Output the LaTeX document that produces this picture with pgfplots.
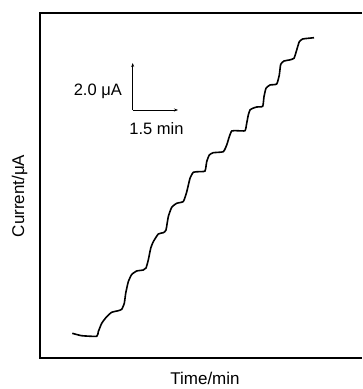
\documentclass[border=0pt]{standalone}
\usepackage{fontspec}
\setmainfont{Liberation Sans}
\usepackage{pgfplots}
\pgfplotsset{compat=1.18}
\usetikzlibrary{arrows.meta}
\begin{document}
\begin{tikzpicture}
\begin{axis}[
  scale only axis, width=322pt, height=345pt,
  xmin=40, xmax=362, ymin=31, ymax=376,
  hide axis, clip=false,
]
\path (axis cs:0,0) rectangle (axis cs:362,389);
\draw[line width=1.1pt] (axis cs:362,376) -- (axis cs:40,376) -- (axis cs:40,31) -- (axis cs:362,31);
\addplot[black, line width=1.6pt, smooth, tension=0.3] coordinates {
(72.3,55.7) (81.7,53.3) (96.7,52.7) (98.3,57.3) (101.7,65.7) (106.7,72.3) (111.7,76.7) (118.3,78.3) (121.7,79.7)
(124.3,85.7) (125.7,95.7) (128.3,107.3) (131.7,114.5) (136.7,118) (143.3,119) (146,121)
(148.3,129) (150.7,140.7) (153.3,147.3) (158.3,155) (163.3,156.3) (166,159)
(168.3,172.3) (171.7,181.7) (176.7,185.7) (183.3,187.5) (186.7,197)
(190,210.7) (193.3,216.7) (198.3,217.3) (205,218) (206.7,227.3)
(209.3,234) (213.3,236.3) (223.3,237.3) (226.7,244) (229.3,252.3) (231.7,258) (236.7,258.3) (245,258.3)
(246.7,265.7) (248.3,274) (250,279) (252.7,280.7) (256.7,282) (262.7,282.7)
(264,292.3) (266,300.7) (270,304) (276.7,305) (279.3,314) (280.7,324.7) (284,328) (289.3,329) (294,330.7)
(296.7,339) (299.3,347.3) (302.7,350) (308.3,350.7) (314,351.3)
};
\draw[line width=0.9pt, -{Stealth[length=4pt,width=3pt]}] (axis cs:132.7,279) -- (axis cs:132.7,326);
\draw[line width=0.9pt, -{Stealth[length=4pt,width=3pt]}] (axis cs:132.7,279) -- (axis cs:178,279);
\node[anchor=east, font=\fontsize{16.5}{19}\selectfont, inner sep=0pt] at (axis cs:122,298) {2.0 μA};
\node[font=\fontsize{16.5}{19}\selectfont, inner sep=0pt] at (axis cs:156.5,260) {1.5 min};
\node[rotate=90, font=\fontsize{17}{19}\selectfont, inner sep=0pt] at (axis cs:19.5,193) {Current/μA};
\node[font=\fontsize{17}{19}\selectfont, inner sep=0pt] at (axis cs:205,11) {Time/min};
\end{axis}
\end{tikzpicture}
\end{document}
